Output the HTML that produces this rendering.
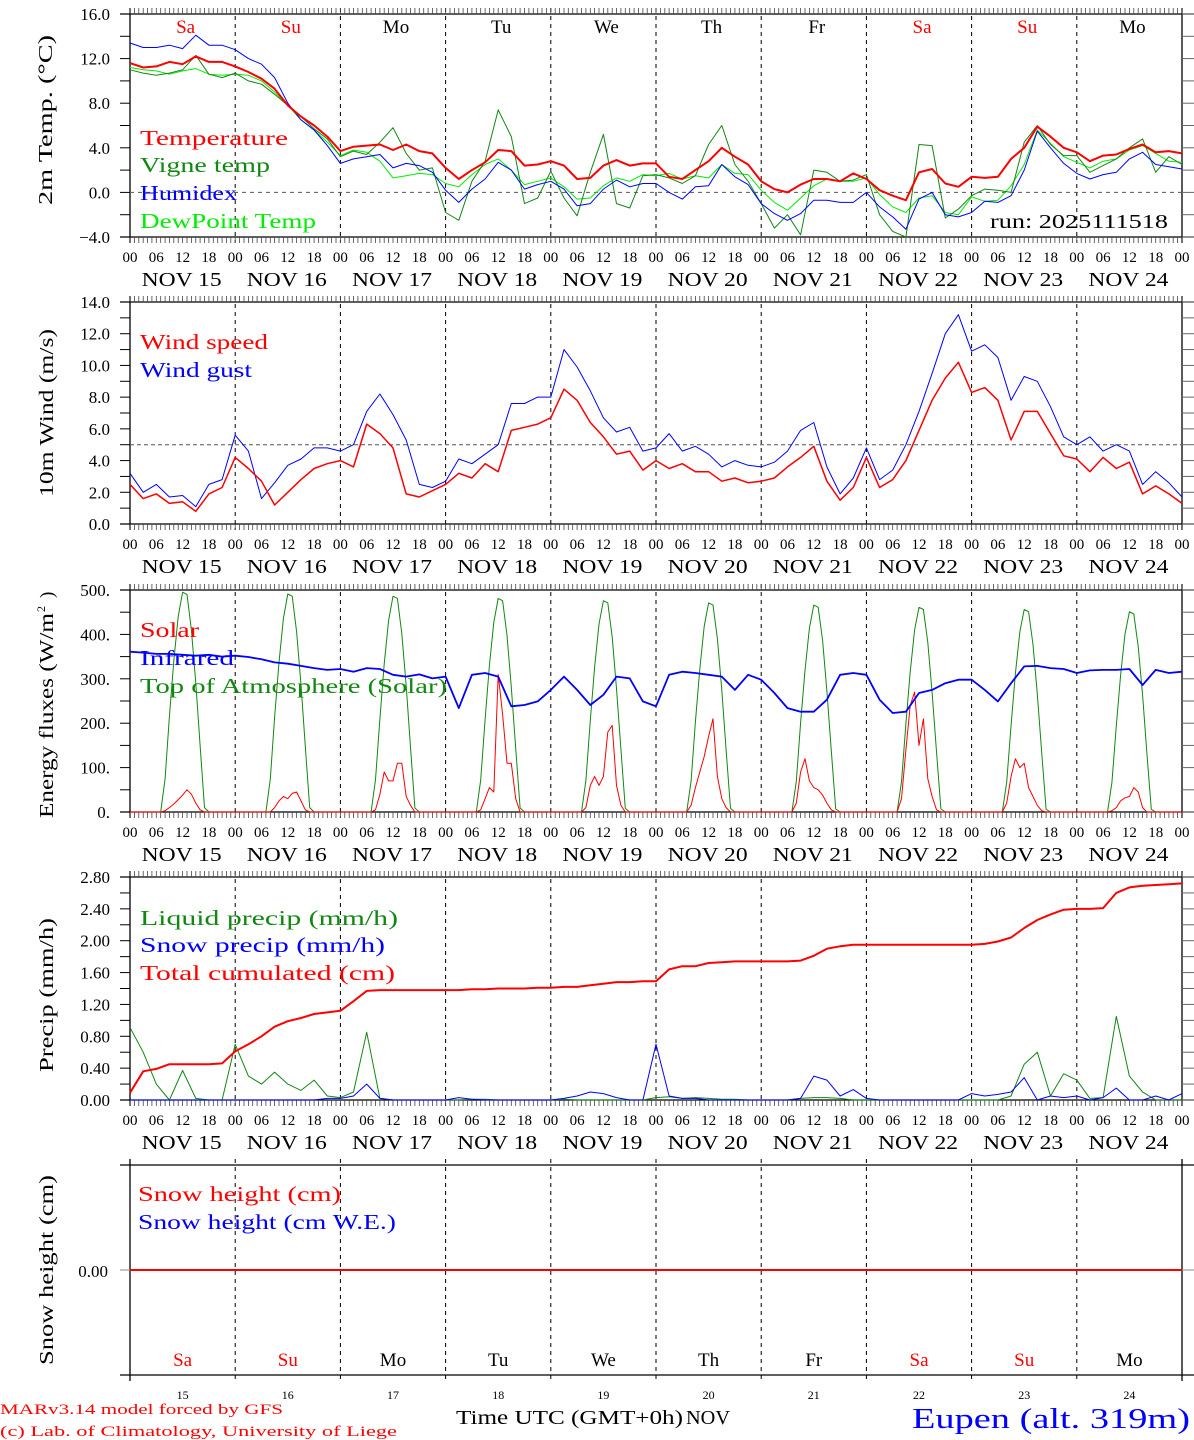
<!DOCTYPE html>
<html><head><meta charset="utf-8"><title>Meteogram Eupen</title>
<style>
html,body{margin:0;padding:0;background:#fff;}
svg{display:block;font-family:"Liberation Serif",serif;}
</style></head>
<body>
<svg id="chart" width="1194" height="1440" viewBox="0 0 1194 1440" xmlns="http://www.w3.org/2000/svg"></svg>
<script>
// ---------- DATA (3-hourly, Nov 15 00 UTC -> Nov 25 00 UTC, 81 points) ----------
const days = ["Sa","Su","Mo","Tu","We","Th","Fr","Sa","Su","Mo"];
const dates = ["15","16","17","18","19","20","21","22","23","24"];
const hourTicks = ["00","06","12","18"];
const tempTicks = [16.0,12.0,8.0,4.0,0.0,-4.0];
const windTicks = [14.0,12.0,10.0,8.0,6.0,4.0,2.0,0.0];
const energyTicks = [500,400,300,200,100,0];
const precipTicks = [2.8,2.4,2.0,1.6,1.2,0.8,0.4,0.0];

const temperature = [11.6,11.2,11.3,11.7,11.5,12.2,11.7,11.7, 11.3,10.8,10.2,9.3,7.8,6.8,6.0,5.0, 3.7,4.1,4.2,4.3,3.8,4.3,3.7,3.5, 2.2,1.2,2.0,2.7,3.8,3.7,2.4,2.5, 2.8,2.4,1.2,1.3,2.4,2.9,2.4,2.6, 2.6,1.4,1.2,2.0,2.8,4.0,3.2,2.5, 1.0,0.3,0.0,0.7,1.2,1.2,1.0,1.7, 1.2,0.2,-0.3,-0.7,1.8,2.1,0.8,0.5, 1.4,1.3,1.4,3.0,4.0,5.9,5.0,4.0, 3.6,2.8,3.3,3.4,3.9,4.3,3.6,3.7,3.5];
const vigneTemp = [11.0,10.7,10.5,10.7,11.0,12.3,10.6,10.3, 10.7,10.0,9.7,8.8,7.8,6.8,5.7,4.8, 3.2,3.7,3.4,4.5,5.8,3.5,2.0,2.2, -1.8,-2.5,1.0,2.8,7.4,5.0,-1.0,-0.5, 1.9,-0.5,-2.1,1.8,5.2,-1.0,-1.4,1.5, 1.6,1.3,0.8,1.5,4.3,6.0,2.5,1.0, -1.0,-3.2,-2.0,-3.8,2.0,1.8,1.0,1.1, 1.6,-2.0,-3.5,-4.0,4.3,4.2,-2.3,-1.5, -0.3,0.3,0.2,0.0,4.5,6.0,4.3,3.3, 3.3,1.8,2.4,3.0,4.0,4.8,1.8,3.2,2.5];
const humidex = [13.4,13.0,13.0,13.2,12.9,14.1,13.2,13.2, 12.8,12.0,11.5,10.3,8.0,6.5,5.6,4.2, 2.6,3.0,3.2,3.4,2.2,2.6,2.4,1.8, 0.2,-0.9,0.3,1.2,2.7,2.0,0.3,0.7, 1.0,0.3,-1.2,-1.0,0.3,1.1,0.5,0.8, 0.8,0.0,-0.6,0.5,0.6,2.5,1.4,0.7, -1.0,-1.9,-2.5,-1.9,-0.7,-0.7,-0.9,-0.9, 0.0,-1.3,-2.2,-3.3,-0.6,0.0,-2.0,-2.2, -1.8,-0.8,-0.9,-0.3,2.0,5.5,4.0,2.6, 1.7,1.2,1.6,1.8,3.0,3.6,2.5,2.3,2.1];
const dewPoint = [11.2,11.0,10.9,10.6,10.9,11.1,10.6,10.5, 10.6,10.5,10.0,9.0,7.8,6.5,5.6,4.5, 3.3,3.8,3.6,2.8,1.3,1.5,1.7,1.6, 0.8,0.5,1.6,2.5,3.0,2.0,0.7,1.0, 1.3,0.5,-0.6,-0.5,0.6,1.3,1.0,1.6, 1.5,1.7,1.2,1.5,1.3,2.5,1.7,1.6, 0.2,-0.9,-1.6,-0.5,0.6,1.2,1.0,1.0, 1.3,-0.2,-1.3,-1.8,-0.5,-0.3,-1.8,-2.0, -0.4,-0.8,-0.7,0.6,2.5,5.6,4.4,3.2, 2.7,2.2,2.8,3.0,3.8,4.2,3.5,2.8,2.7];

const windSpeed = [2.5,1.6,1.9,1.3,1.4,0.8,1.9,2.3, 4.2,3.5,2.7,1.2,2.0,2.8,3.5,3.8, 4.0,3.6,6.3,5.7,4.8,1.9,1.7,2.1, 2.5,3.2,2.9,3.8,3.3,5.9,6.1,6.3, 6.7,8.5,7.8,6.4,5.5,4.4,4.6,3.4, 4.0,3.5,3.8,3.3,3.3,2.7,2.9,2.6, 2.7,2.9,3.6,4.2,4.9,2.7,1.5,2.3, 4.2,2.3,2.8,4.0,5.9,7.8,9.2,10.2, 8.3,8.6,7.8,5.3,7.1,7.1,5.7,4.3, 4.1,3.3,4.2,3.5,3.9,1.9,2.4,1.9,1.3];
const windGust = [3.2,2.0,2.5,1.7,1.8,1.1,2.5,2.8, 5.6,4.6,1.6,2.6,3.7,4.1,4.8,4.8, 4.6,5.0,7.1,8.2,6.9,5.3,2.5,2.3, 2.7,4.1,3.8,4.4,5.0,7.6,7.6,8.0, 8.0,11.0,9.9,8.4,6.7,5.8,6.1,4.6, 4.8,5.7,4.6,4.9,4.4,3.6,4.0,3.7, 3.6,3.9,4.6,5.9,6.4,3.6,1.9,2.9, 4.8,2.8,3.4,5.0,7.1,9.5,12.0,13.2, 10.9,11.3,10.5,7.8,9.3,9.0,7.4,5.5, 5.0,5.5,4.6,5.0,4.6,2.5,3.3,2.6,1.7];

// hourly daylight values (hours 07..17) per day
const toaDaylight = [
 [0,75,215,340,440,495,490,410,290,150,10],
 [0,74,213,337,436,491,486,406,287,148,10],
 [0,73,210,333,431,486,481,402,284,146,9],
 [0,72,208,330,427,481,476,398,281,144,9],
 [0,71,206,326,423,476,471,394,278,142,8],
 [0,70,203,322,418,471,466,390,275,140,8],
 [0,69,201,319,414,466,461,386,272,138,7],
 [0,68,199,315,410,461,456,382,269,136,7],
 [0,67,196,312,405,456,451,377,266,134,6],
 [0,66,194,308,401,451,446,373,263,132,6]];
const solarDaylight = [
 [0,3,10,18,28,38,50,40,20,5,0],
 [0,0,10,25,35,30,42,45,25,5,0],
 [0,5,40,90,70,70,110,110,35,15,0],
 [0,5,30,55,45,310,220,110,110,30,0],
 [0,10,60,80,60,80,180,195,60,15,0],
 [0,15,55,90,125,170,210,80,30,10,0],
 [0,20,90,120,70,55,50,38,20,5,0],
 [0,30,140,240,270,150,210,75,35,5,0],
 [0,20,80,120,100,110,55,35,15,3,0],
 [0,3,10,25,32,35,55,45,10,0,0]];
const infrared = [361,359,356,356,354,352,354,350, 352,349,344,337,334,329,324,320, 322,316,324,322,309,305,310,301, 305,234,309,313,305,238,241,249, 275,305,275,241,264,305,301,249, 238,309,316,313,309,305,275,309, 298,268,234,226,226,253,309,313, 309,253,223,226,268,275,290,298, 298,275,249,290,328,329,324,322, 313,319,320,320,322,286,320,313,316];

const liquidPrecip = [0.91,0.6,0.2,0.0,0.37,0.02,0.0,0.0, 0.7,0.3,0.2,0.35,0.2,0.12,0.25,0.05, 0.03,0.1,0.85,0.02,0,0,0,0, 0,0,0.01,0.01,0,0,0,0, 0,0.01,0,0,0,0,0,0, 0.03,0.04,0.02,0.03,0.02,0.01,0.01,0, 0,0,0,0.02,0.03,0.03,0.02,0, 0,0,0,0,0,0,0,0, 0,0,0,0.05,0.45,0.6,0.05,0.33, 0.25,0.02,0.03,1.05,0.3,0.1,0,0,0];
const snowPrecip = [0,0,0,0,0,0,0,0, 0,0,0,0,0,0,0,0.02, 0.02,0.05,0.2,0.02,0,0,0,0, 0,0.03,0.01,0,0,0,0,0, 0,0.02,0.05,0.1,0.08,0.03,0,0, 0.7,0.05,0.02,0.02,0,0,0,0, 0,0,0,0.02,0.3,0.25,0.05,0.13, 0.02,0,0,0,0,0,0,0, 0.08,0.05,0.07,0.1,0.28,0,0.05,0.03, 0.05,0,0.03,0.15,0,0,0.05,0,0.08];
const totalCumulated = [0.09,0.36,0.39,0.45,0.45,0.45,0.45,0.46, 0.61,0.70,0.80,0.92,0.99,1.03,1.08,1.10, 1.12,1.24,1.37,1.38,1.38,1.38,1.38,1.38, 1.38,1.38,1.39,1.39,1.40,1.40,1.40,1.41, 1.41,1.42,1.42,1.44,1.46,1.48,1.48,1.49, 1.49,1.64,1.68,1.68,1.72,1.73,1.74,1.74, 1.74,1.74,1.74,1.75,1.81,1.90,1.93,1.95, 1.95,1.95,1.95,1.95,1.95,1.95,1.95,1.95, 1.95,1.96,1.99,2.04,2.16,2.26,2.33,2.39, 2.40,2.40,2.41,2.60,2.67,2.69,2.70,2.71,2.72];
const snowHeight = [0,0,0,0,0,0,0,0,0,0,0];

// ---------- RENDER ----------
const NS = "http://www.w3.org/2000/svg";
const svg = document.getElementById("chart");
const X0 = 130, X1 = 1182;
const SG = "spacingAndGlyphs";
function xh(h){ return X0 + h/240*(X1-X0); }
function mk(tag, attrs, name, parent){
  const el = document.createElementNS(NS, tag);
  for (const k in attrs) el.setAttribute(k, attrs[k]);
  
  
  (parent||svg).appendChild(el);
  return el;
}
function txt(s, attrs, name){ const t = mk("text", attrs, name); t.textContent = s; return t; }
function scale(top, bot, min, max){ return v => bot - (v-min)/(max-min)*(bot-top); }

const panels = [
  {key:"temp", top:14, bot:237, min:-4, max:16},
  {key:"wind", top:302, bot:524, min:0, max:14},
  {key:"energy", top:590, bot:812, min:0, max:500},
  {key:"precip", top:877, bot:1100, min:0, max:2.8}
];

function frame(top, bot, xlabels){
  mk("line",{x1:120,y1:top,x2:1194,y2:top,stroke:"#000","stroke-width":1.3},"top-axis");
  mk("line",{x1:120,y1:bot,x2:1194,y2:bot,stroke:"#000","stroke-width":1.3},"bottom-axis");
  mk("line",{x1:X0,y1:top-6,x2:X0,y2:bot+6,stroke:"#000","stroke-width":1.3},"left-axis");
  mk("line",{x1:X1,y1:top-6,x2:X1,y2:bot+6,stroke:"#000","stroke-width":1.3},"right-axis");
  for(let d=1; d<10; d++){
    mk("line",{x1:xh(d*24),y1:top-6,x2:xh(d*24),y2:bot+6,stroke:"#000","stroke-width":1,"stroke-dasharray":"4,4"},"day-separator");
  }
  if(xlabels){
    let p = "";
    for(let h=0; h<=240; h++){
      const x = xh(h).toFixed(1);
      p += `M${x} ${top-6}V${top}M${x} ${bot}V${bot+6}`;
    }
    mk("path",{d:p,stroke:"#444","stroke-width":0.8,fill:"none"},"hour-ticks");
    for(let d=0; d<10; d++){
      for(let k=0;k<4;k++){
        txt(hourTicks[k],{x:xh(d*24+k*6),y:bot+25,"font-size":15,"text-anchor":"middle"},"x-hour-label");
      }
      txt("NOV "+dates[d],{x:xh(d*24+12)-1,y:bot+49,"font-size":20,"text-anchor":"middle",textLength:80,lengthAdjust:SG},"x-date-label");
    }
    txt("00",{x:xh(240),y:bot+25,"font-size":15,"text-anchor":"middle"},"x-hour-label");
  }
}
function yAxis(p, ticks, fmt, minorStep){
  const y = scale(p.top,p.bot,p.min,p.max);
  for(let v=p.min; v<=p.max+1e-9; v+=minorStep){
    mk("line",{x1:120,y1:y(v),x2:X0,y2:y(v),stroke:"#000","stroke-width":1},"y-tick");
    mk("line",{x1:X1,y1:y(v),x2:1194,y2:y(v),stroke:"#666","stroke-width":1},"y-tick-right");
  }
  ticks.forEach(v=>{
    txt(fmt(v),{x:110,y:y(v)+6,"font-size":17,"text-anchor":"end"},"y-tick-label");
  });
  return y;
}
function series(vals, y, color, w, name, stepH){
  const pts = vals.map((v,i)=> xh(i*stepH).toFixed(1)+","+y(v).toFixed(1)).join(" ");
  mk("polyline",{points:pts,fill:"none",stroke:color,"stroke-width":w,"stroke-linejoin":"round"},name);
}
function hourlyFromDaylight(arr){
  const out = new Array(241).fill(0);
  arr.forEach((dv,d)=> dv.forEach((v,k)=>{ out[d*24+7+k]=v; }));
  return out;
}
function yTitle(s, cx, cy, len, name){
  txt(s,{x:0,y:0,"font-size":20,"text-anchor":"middle",transform:`translate(${cx},${cy}) rotate(-90)`,textLength:len,lengthAdjust:SG},name);
}
function legend(s, x, y, color, len, name){
  txt(s,{x:x,y:y,"font-size":21,fill:color,textLength:len,lengthAdjust:SG},name);
}

// Panel 1: temperature
{
  const p = panels[0];
  frame(p.top,p.bot,true);
  const y = yAxis(p,tempTicks,v=>v.toFixed(1).replace("-","\u2212"),2);
  mk("line",{x1:X0,y1:y(0),x2:X1,y2:y(0),stroke:"#555","stroke-width":1,"stroke-dasharray":"4,4"},"zero-line");
  days.forEach((d,i)=> txt(d,{x:xh(i*24+12)+3,y:33,"font-size":19,"text-anchor":"middle",fill:(d==="Sa"||d==="Su")?"#ff0000":"#000"},"day-name"));
  series(dewPoint,y,"#00ee00",1,"dewpoint-line",3);
  series(vigneTemp,y,"#118811",1,"vigne-temp-line",3);
  series(humidex,y,"#0000ff",1,"humidex-line",3);
  series(temperature,y,"#ff0000",2,"temperature-line",3);
  legend("Temperature",140,145,"#ff0000",148,"legend-temperature");
  legend("Vigne temp",140,172,"#118811",130,"legend-vigne-temp");
  legend("Humidex",140,200,"#0000ff",97,"legend-humidex");
  legend("DewPoint Temp",140,228,"#00ee00",176,"legend-dewpoint");
  txt("run: 2025111518",{x:990,y:228,"font-size":20,textLength:178,lengthAdjust:SG},"run-label");
  yTitle("2m Temp. (\u00B0C)",52,120,170,"y-axis-title-temp");
}
// Panel 2: wind
{
  const p = panels[1];
  frame(p.top,p.bot,true);
  const y = yAxis(p,windTicks,v=>v.toFixed(1),1);
  mk("line",{x1:X0,y1:y(5),x2:X1,y2:y(5),stroke:"#555","stroke-width":1,"stroke-dasharray":"4,3"},"threshold-line");
  series(windGust,y,"#0000ff",1,"wind-gust-line",3);
  series(windSpeed,y,"#ff0000",1.5,"wind-speed-line",3);
  legend("Wind speed",140,349,"#ff0000",128,"legend-wind-speed");
  legend("Wind gust",140,377,"#0000ff",112,"legend-wind-gust");
  yTitle("10m Wind (m/s)",53,413,168,"y-axis-title-wind");
}
// Panel 3: energy
{
  const p = panels[2];
  frame(p.top,p.bot,true);
  const y = yAxis(p,energyTicks,v=>v+".",50);
  series(hourlyFromDaylight(toaDaylight),y,"#118811",1,"toa-solar-line",1);
  series(hourlyFromDaylight(solarDaylight),y,"#ff0000",1,"solar-line",1);
  series(infrared,y,"#0000ff",1.8,"infrared-line",3);
  legend("Solar",140,637,"#ff0000",59,"legend-solar");
  legend("Infrared",140,665,"#0000ff",94,"legend-infrared");
  legend("Top of Atmosphere (Solar)",140,693,"#118811",307,"legend-toa");
  txt("Energy fluxes (W/m",{x:0,y:0,"font-size":20,"text-anchor":"start",transform:"translate(53,818) rotate(-90)",textLength:205,lengthAdjust:SG},"y-axis-title-energy");
  txt("2",{x:0,y:0,"font-size":12,transform:"translate(45,612) rotate(-90)"},"y-axis-title-energy-sup");
  txt(")",{x:0,y:0,"font-size":19,transform:"translate(53,598) rotate(-90)"},"y-axis-title-energy-end");
}
// Panel 4: precip
{
  const p = panels[3];
  frame(p.top,p.bot,true);
  const y = yAxis(p,precipTicks,v=>v.toFixed(2),0.2);
  series(liquidPrecip,y,"#118811",1,"liquid-precip-line",3);
  series(snowPrecip,y,"#0000ff",1,"snow-precip-line",3);
  series(totalCumulated,y,"#ff0000",2,"total-cumulated-line",3);
  legend("Liquid precip (mm/h)",140,925,"#118811",258,"legend-liquid");
  legend("Snow precip (mm/h)",140,952,"#0000ff",245,"legend-snow-precip");
  legend("Total cumulated (cm)",140,980,"#ff0000",255,"legend-cumulated");
  yTitle("Precip (mm/h)",53,995,154,"y-axis-title-precip");
}
// Panel 5: snow height
{
  const top=1165, bot=1375;
  frame(top,bot,false);
  const y = v => 1270 - v*50;
  mk("line",{x1:120,y1:1270,x2:X0,y2:1270,stroke:"#888","stroke-width":1},"y-tick");
  mk("line",{x1:X1,y1:1270,x2:1194,y2:1270,stroke:"#888","stroke-width":1},"y-tick-right");
  txt("0.00",{x:108,y:1277,"font-size":17,"text-anchor":"end"},"y-tick-label");
  series(snowHeight,y,"#ff0000",2,"snow-height-line",24);
  legend("Snow height (cm)",138,1201,"#ff0000",203,"legend-snow-height");
  legend("Snow height (cm W.E.)",138,1229,"#0000ff",258,"legend-snow-we");
  days.forEach((d,i)=> txt(d,{x:xh(i*24+12),y:1366,"font-size":19,"text-anchor":"middle",fill:(d==="Sa"||d==="Su")?"#ff0000":"#000"},"day-name-bottom"));
  dates.forEach((d,i)=> txt(d,{x:xh(i*24+12),y:1399,"font-size":12,"text-anchor":"middle"},"date-number"));
  yTitle("Snow height (cm)",53,1270,190,"y-axis-title-snow");
}
// Footer
txt("MARv3.14 model forced by GFS",{x:0,y:1414,"font-size":15,fill:"#ff0000",textLength:283,lengthAdjust:SG},"model-credit");
txt("(c) Lab. of Climatology, University of Liege",{x:0,y:1436,"font-size":15,fill:"#ff0000",textLength:397,lengthAdjust:SG},"lab-credit");
txt("Time UTC (GMT+0h)",{x:456,y:1424,"font-size":20,textLength:227,lengthAdjust:SG},"x-axis-title");
txt("NOV",{x:686,y:1424,"font-size":20,textLength:44,lengthAdjust:SG},"x-axis-month");
txt("Eupen (alt. 319m)",{x:912,y:1428,"font-size":28,fill:"#0000ff",textLength:278,lengthAdjust:SG},"station-title");
</script>
</body></html>
